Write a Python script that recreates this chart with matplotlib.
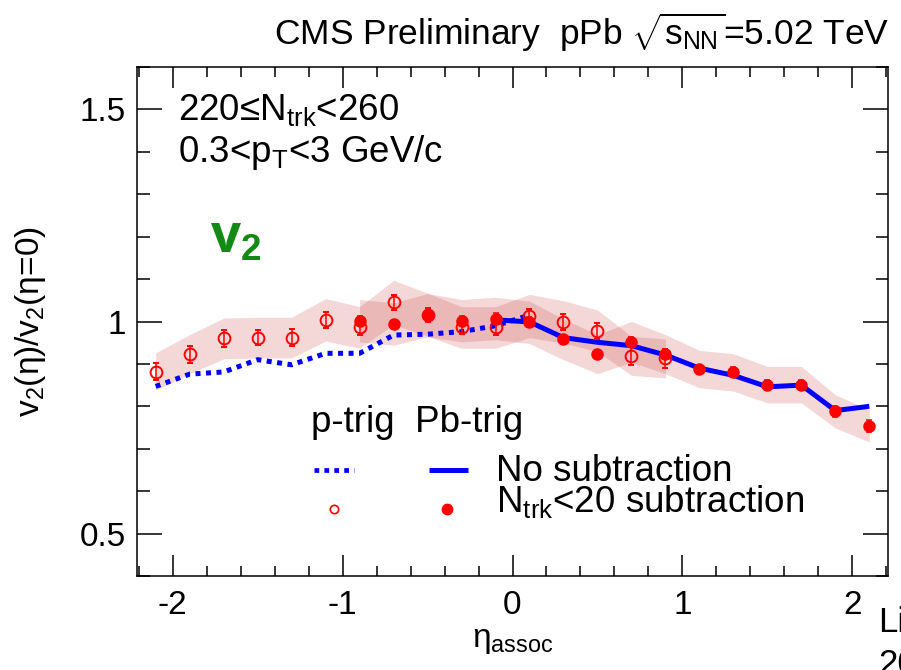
import matplotlib
matplotlib.use("Agg")
import matplotlib.pyplot as plt
from matplotlib.ticker import MultipleLocator
import numpy as np

plt.rcParams['font.family'] = ['Liberation Sans', 'DejaVu Sans']
plt.rcParams['mathtext.fontset'] = 'custom'
plt.rcParams['mathtext.rm'] = 'Liberation Sans'
plt.rcParams['mathtext.it'] = 'Liberation Sans'
plt.rcParams['mathtext.bf'] = 'Liberation Sans:bold'

# p-going trigger, N_trk<20 subtracted (open circles)
eta_p = [-2.1, -1.9, -1.7, -1.5, -1.3, -1.1, -0.9, -0.7, -0.5, -0.3, -0.1, 0.1, 0.3, 0.5, 0.7, 0.9]
v2_p_sub = [0.882, 0.923, 0.960, 0.962, 0.962, 1.004, 0.986, 1.045, 1.016, 0.986, 0.986,
            1.013, 0.999, 0.978, 0.919, 0.913]
stat_p = [0.020, 0.020, 0.019, 0.018, 0.020, 0.019, 0.018, 0.018, 0.016, 0.016, 0.018,
          0.017, 0.018, 0.019, 0.022, 0.022]
sys_p = [0.044, 0.046, 0.048, 0.048, 0.048, 0.050, 0.049, 0.052, 0.051, 0.049, 0.049,
         0.051, 0.050, 0.049, 0.046, 0.046]

# Pb-going trigger, N_trk<20 subtracted (filled circles)
eta_pb = [-0.9, -0.7, -0.5, -0.3, -0.1, 0.1, 0.3, 0.5, 0.7, 0.9, 1.1, 1.3, 1.5, 1.7, 1.9, 2.1]
v2_pb_sub = [1.002, 0.994, 1.015, 1.002, 1.007, 0.998, 0.958, 0.923, 0.952, 0.923,
             0.888, 0.880, 0.851, 0.851, 0.788, 0.754]
stat_pb = [0.012, 0.010, 0.014, 0.012, 0.013, 0.012, 0.010, 0.010, 0.012, 0.012,
           0.010, 0.012, 0.010, 0.012, 0.013, 0.014]
sys_pb = [0.050, 0.050, 0.051, 0.050, 0.050, 0.050, 0.048, 0.046, 0.048, 0.046,
          0.044, 0.044, 0.043, 0.043, 0.039, 0.038]

# no subtraction curves
eta_p_nosub = [-2.1, -1.9, -1.7, -1.5, -1.3, -1.1, -0.9, -0.7, -0.5, -0.3, -0.1, 0.1]
v2_p_nosub = [0.847, 0.876, 0.881, 0.910, 0.898, 0.925, 0.925, 0.968, 0.970, 0.976, 0.990, 1.015]
eta_pb_nosub = [-0.1, 0.1, 0.3, 0.5, 0.7, 0.9, 1.1, 1.3, 1.5, 1.7, 1.9, 2.1]
v2_pb_nosub = [1.004, 0.999, 0.962, 0.951, 0.943, 0.921, 0.890, 0.873, 0.846, 0.850, 0.790, 0.800]

red = '#ff0000'
blue = '#0000ff'
band = '#c83c3c'
fs = 26.5

fig = plt.figure(figsize=(9.01, 6.70), dpi=100)
ax = fig.add_axes([137 / 901, 94 / 670, 751 / 901, 509 / 670])

# systematic bands
vp, sp = np.array(v2_p_sub), np.array(sys_p)
vb, sb = np.array(v2_pb_sub), np.array(sys_pb)
ax.fill_between(eta_p, vp - sp, vp + sp, color=band, alpha=0.2, lw=0)
ax.fill_between(eta_pb, vb - sb, vb + sb, color=band, alpha=0.2, lw=0)

ax.plot(eta_p_nosub, v2_p_nosub, color=blue, lw=3.6, linestyle=(0, (1, 1.1)),
        dash_capstyle='butt')
ax.plot(eta_pb_nosub, v2_pb_nosub, color=blue, lw=3.6, solid_capstyle='butt')

ax.errorbar(eta_p, v2_p_sub, yerr=stat_p, fmt='o', ms=8.5, mfc='none', mec=red, mew=1.4,
            ecolor=red, elinewidth=1.1, capsize=2.3, capthick=1.1)
ax.errorbar(eta_pb, v2_pb_sub, yerr=stat_pb, fmt='o', ms=8.0, mfc=red, mec=red,
            ecolor=red, elinewidth=1.1, capsize=2.3, capthick=1.1)

ax.set_xlim(-2.21, 2.21)
ax.set_ylim(0.4, 1.6)
ax.xaxis.set_minor_locator(MultipleLocator(0.2))
ax.yaxis.set_minor_locator(MultipleLocator(0.1))
ax.set_xticks([-2, -1, 0, 1, 2])
ax.set_xticklabels(['-2', '-1', '0', '1', '2'])
ax.set_yticks([0.5, 1.0, 1.5])
ax.set_yticklabels(['0.5', '1', '1.5'])
ax.tick_params(which='both', direction='in', top=True, right=True, width=1.1,
               labelsize=24)
ax.tick_params(axis='x', which='major', length=15, pad=10)
ax.tick_params(axis='x', which='minor', length=7.5)
ax.tick_params(axis='y', which='major', length=18, pad=8)
ax.tick_params(axis='y', which='minor', length=9)
for s in ax.spines.values():
    s.set_linewidth(1.1)

ax.set_xlabel('η$_{assoc}$', fontsize=24, labelpad=3)
fig.text(31 / 901, 1 - 322 / 670, 'v$_{2}$(η)/v$_{2}$(η=0)', fontsize=24,
         rotation=90, ha='center', va='center')

fig.text(889 / 901, 1 - 45 / 670, r'CMS Preliminary  pPb $\sqrt{s_{NN}}$=5.02 TeV',
         fontsize=25.5, ha='right', va='baseline')

fig.text(178 / 901, 1 - 120 / 670, '220≤N$_{trk}$<260', fontsize=fs, va='baseline')
fig.text(178 / 901, 1 - 162 / 670, '0.3<p$_{T}$<3 GeV/c', fontsize=fs, va='baseline')
fig.text(210 / 901, 1 - 253 / 670, r'v$_{\mathbf{2}}$', fontsize=38, color='#138a13',
         family='Open Sans', weight='bold', va='baseline')

# legend drawn by hand, two marker columns
fig.text(311 / 901, 1 - 432 / 670, 'p-trig  Pb-trig', fontsize=fs, va='baseline')
tr = fig.transFigure
ax.plot([314 / 901, 354 / 901], [1 - 470 / 670] * 2, transform=tr, color=blue, lw=3.4,
        linestyle=(0, (1, 1.1)), dash_capstyle='butt', clip_on=False)
ax.plot([429 / 901, 468 / 901], [1 - 470 / 670] * 2, transform=tr, color=blue, lw=3.6,
        solid_capstyle='butt', clip_on=False)
ax.plot([334 / 901], [1 - 509 / 670], transform=tr, marker='o', ms=6, mfc='none',
        mec=red, mew=1.2, clip_on=False)
ax.plot([447 / 901], [1 - 509 / 670], transform=tr, marker='o', ms=7.5, mfc=red,
        mec=red, clip_on=False)
fig.text(496 / 901, 1 - 481 / 670, 'No subtraction', fontsize=fs, va='baseline')
fig.text(496 / 901, 1 - 512 / 670, 'N$_{trk}$<20 subtraction', fontsize=fs,
         va='baseline')

fig.text(878 / 901, 1 - 632 / 670, 'Li', fontsize=25, va='baseline')
fig.text(878 / 901, 1 - 674 / 670, '20', fontsize=25, va='baseline')

fig.savefig('out.png', dpi=100)
